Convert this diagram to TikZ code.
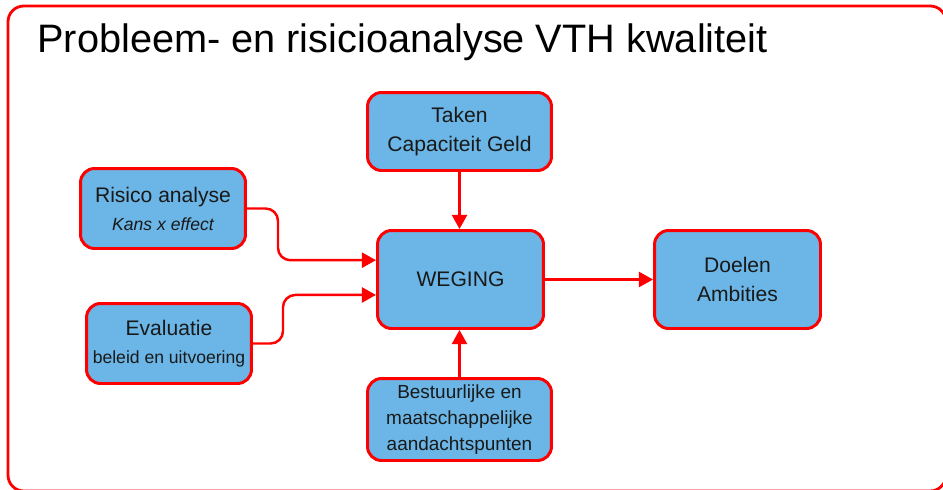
\documentclass[tikz,border=0pt]{standalone}
\usepackage{fontspec}
\setmainfont{Liberation Sans}
\usetikzlibrary{arrows.meta,positioning}
\definecolor{boxblue}{RGB}{107,182,230}

\begin{document}
\begin{tikzpicture}[x=0.02cm,y=-0.02cm,
    box/.style={draw=red, line width=1.7pt, fill=boxblue, rounded corners=8pt,
      align=center, text=black!90, inner sep=2pt,
      font=\fontsize{12}{16}\selectfont},
    arr/.style={draw=red, line width=1.4pt, -{Triangle[length=8pt,width=8.5pt]}}]
    \useasboundingbox (0,0) rectangle (943,490);
    \clip (0,0) rectangle (943,490);
    \draw[red, line width=1.6pt, rounded corners=9pt] (8,6) rectangle (946,491);
    \node[anchor=base west, inner sep=0, font=\fontsize{22.6}{26}\selectfont] (title) at (37,52)
      {Probleem- en risicioanalyse VTH kwaliteit};

    \node[box, minimum width=3.32cm, minimum height=1.96cm] (weging) at (460.5,279.5) {WEGING};
    \node[box, minimum width=3.68cm, minimum height=1.56cm] (taken) at (459.5,131.5) {Taken\\Capaciteit Geld};
    \node[box, minimum width=3.3cm, minimum height=1.6cm] (risico) at (163,208.5)
      {Risico analyse\\{\fontsize{10}{14}\selectfont\itshape Kans x effect}};
    \node[box, minimum width=3.3cm, minimum height=1.6cm] (evaluatie) at (169,343.5)
      {Evaluatie\\{\fontsize{10}{13}\selectfont beleid en uitvoering}};
    \node[box, minimum width=3.32cm, minimum height=1.96cm] (doelen) at (737.5,279.5) {Doelen\\Ambities};
    \node[box, minimum width=3.68cm, minimum height=1.64cm, font=\fontsize{10.8}{14.7}\selectfont] (bestuur) at (459.5,419.5)
      {Bestuurlijke en\\maatschappelijke\\aandachtspunten};

    \draw[arr] (taken.south) -- (taken.south |- weging.north);
    \draw[arr] (bestuur.north) -- (bestuur.north |- weging.south);
    \draw[arr] (weging) -- (doelen);
    \draw[arr, rounded corners=7pt] (risico.east) -- ++(31,0) |- ([yshift=11pt]weging.west);
    \draw[arr, rounded corners=7pt] (evaluatie.east) -- ++(30,0) |- ([yshift=-8.8pt]weging.west);
\end{tikzpicture}
\end{document}
